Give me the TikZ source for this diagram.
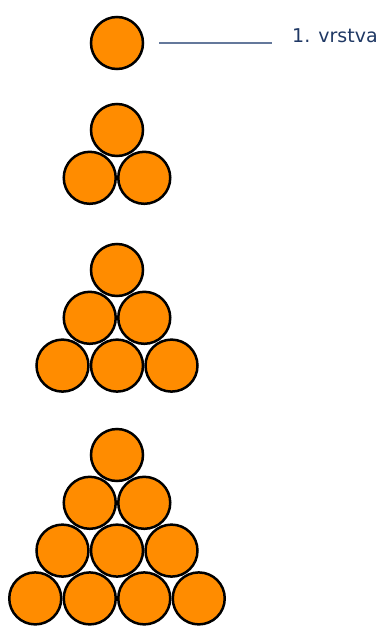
\documentclass[tikz,border=0pt]{standalone}
\usepackage{fontspec}
\setmainfont{DejaVu Sans}
\definecolor{ballorange}{RGB}{255,140,0}
\definecolor{labelblue}{RGB}{31,56,100}
\definecolor{leadergray}{RGB}{100,120,155}
\begin{document}
\begin{tikzpicture}[x=1pt, y=-1pt,
    ball/.style={draw, circle, line width=2.5pt, fill=ballorange, minimum size=52pt, inner sep=0pt},
    leader/.style={draw=leadergray, line width=2pt}]
    \useasboundingbox (0,0) rectangle (385,627);

    % first layer with its label
    \node[ball] (b1-1-1) at (117,43) {};
    \coordinate (lineend) at (272,43);
    \node[anchor=base west, text=labelblue, font=\fontsize{19}{22}\selectfont, inner sep=0pt] (lbl) at (292,42) {1. vrstva};
    \draw[leader, shorten <=15pt] (b1-1-1.east) -- (lineend);

    % pyramids of two, three and four layers
    \foreach \n/\top in {2/130, 3/270, 4/455} {
        \foreach \r in {1,...,\n} {
            \foreach \k in {1,...,\r} {
                \node[ball] (b\n-\r-\k) at ({117+(\k-(\r+1)/2)*54.5}, {\top+(\r-1)*47.8}) {};
            }
        }
    }
\end{tikzpicture}
\end{document}
